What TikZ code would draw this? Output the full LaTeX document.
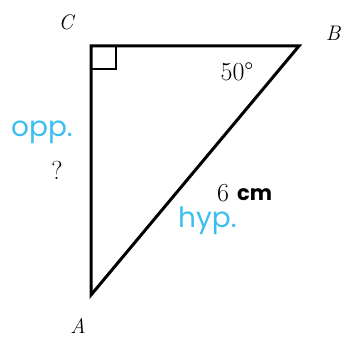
\documentclass[tikz,border=0pt]{standalone}
\usepackage{fontspec}
\newfontfamily\handfont{Poppins}
\begin{document}
\begin{tikzpicture}[x=1pt,y=-1pt,
  edge/.style={line width=3pt,line join=miter},
  vlabel/.style={font=\itshape\fontsize{21}{24}\selectfont, inner sep=0pt},
  numlabel/.style={font=\fontsize{26}{28}\selectfont, inner sep=0pt},
  hand/.style={font=\handfont\fontsize{28}{30}\selectfont, inner sep=0pt},
  handblack/.style={font=\handfont\bfseries\fontsize{21}{24}\selectfont, inner sep=0pt}]
\useasboundingbox (0,0) rectangle (341,339);
\definecolor{handcyan}{RGB}{60,190,240}
\coordinate (C) at (91,46);
\coordinate (B) at (299,46);
\coordinate (A) at (91,295);
\draw[edge] (C) -- (B) -- (A) -- cycle;
\draw[line width=1.2pt] ([shift={(0,23)}]C) -- ++(25,0) -- ++(0,-23);
\node[vlabel] (lC) at (66,22) {C};
\node[vlabel] (lB) at (333,33) {B};
\node[vlabel] (lA) at (78,326) {A};
\node[numlabel] (ang) at (237,72) {50°};
\node[numlabel] (q) at (57,170) {?};
\node[numlabel] (six) at (223,193) {6};
\node[handblack, anchor=west] (cm) at (237,195) {cm};
\node[hand, text=handcyan, anchor=west] (opp) at (11,132) {opp.};
\node[hand, text=handcyan, anchor=west] (hyp) at (178,221) {hyp.};
\end{tikzpicture}
\end{document}
